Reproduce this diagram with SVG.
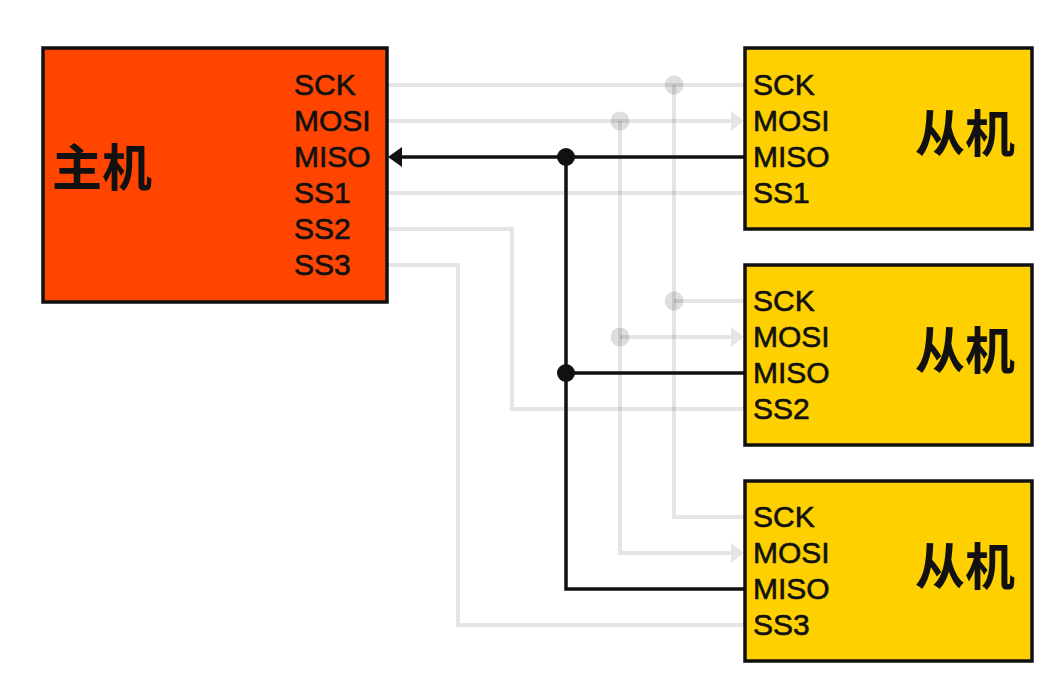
<svg xmlns="http://www.w3.org/2000/svg" width="1059" height="691" viewBox="0 0 1059 691">
<style>
.box{stroke:#111;stroke-width:3.5}
.m{fill:#FF4500}
.s{fill:#FFD000}
.pin{font-family:"Liberation Sans",Arial,sans-serif;font-size:30px;fill:#111;stroke:#111;stroke-width:0.6}
.big{font-family:"Liberation Sans","Noto Sans CJK SC",sans-serif;font-size:50px;font-weight:bold;fill:#111}
.g{fill:none;stroke:#000;stroke-opacity:0.1;stroke-width:4}
.k{fill:none;stroke:#111;stroke-width:3.5}
.gd{fill:#000;fill-opacity:0.13}
.kd{fill:#111}
.ga{fill:#000;fill-opacity:0.1}
</style>
<rect width="1059" height="691" fill="#fff"/>
<g id="connectors">
  <path class="g" d="M387 85H745"/>
  <path class="g" d="M674 85V517H745"/>
  <path class="g" d="M674 301H745"/>
  <path class="g" d="M387 121H731"/>
  <path class="g" d="M620 121V553H731"/>
  <path class="g" d="M620 337H731"/>
  <polygon class="ga" points="731,111 744,121 731,131"/>
  <polygon class="ga" points="731,327 744,337 731,347"/>
  <polygon class="ga" points="731,543 744,553 731,563"/>
  <path class="g" d="M387 193H745"/>
  <path class="g" d="M387 229H512V409H745"/>
  <path class="g" d="M387 265H458V625H745"/>
  <circle class="gd" cx="674" cy="85" r="9.5"/>
  <circle class="gd" cx="674" cy="301" r="9.5"/>
  <circle class="gd" cx="620" cy="121" r="9.5"/>
  <circle class="gd" cx="620" cy="337" r="9.5"/>
  <path class="k" d="M745 157H400"/>
  <polygon class="kd" points="402,147 388,157 402,167"/>
  <path class="k" d="M566 157V589H745"/>
  <path class="k" d="M566 373H745"/>
  <circle class="kd" cx="566" cy="157" r="9"/>
  <circle class="kd" cx="566" cy="373" r="9"/>
</g>
<g id="master">
  <rect class="box m" x="43" y="48" width="344" height="254"/>
  <text class="big" x="52" y="186">主机</text>
  <text class="pin" x="294" y="95">SCK</text>
  <text class="pin" x="294" y="131">MOSI</text>
  <text class="pin" x="294" y="167">MISO</text>
  <text class="pin" x="294" y="203">SS1</text>
  <text class="pin" x="294" y="239">SS2</text>
  <text class="pin" x="294" y="275">SS3</text>
</g>
<g id="slave1">
  <rect class="box s" x="745" y="48" width="287" height="181"/>
  <text class="big" x="915" y="152">从机</text>
  <text class="pin" x="753" y="95">SCK</text>
  <text class="pin" x="753" y="131">MOSI</text>
  <text class="pin" x="753" y="167">MISO</text>
  <text class="pin" x="753" y="203">SS1</text>
</g>
<g id="slave2">
  <rect class="box s" x="745" y="265" width="287" height="180"/>
  <text class="big" x="915" y="369">从机</text>
  <text class="pin" x="753" y="311">SCK</text>
  <text class="pin" x="753" y="347">MOSI</text>
  <text class="pin" x="753" y="383">MISO</text>
  <text class="pin" x="753" y="419">SS2</text>
</g>
<g id="slave3">
  <rect class="box s" x="745" y="481" width="287" height="180"/>
  <text class="big" x="915" y="585">从机</text>
  <text class="pin" x="753" y="527">SCK</text>
  <text class="pin" x="753" y="563">MOSI</text>
  <text class="pin" x="753" y="599">MISO</text>
  <text class="pin" x="753" y="635">SS3</text>
</g>
</svg>
